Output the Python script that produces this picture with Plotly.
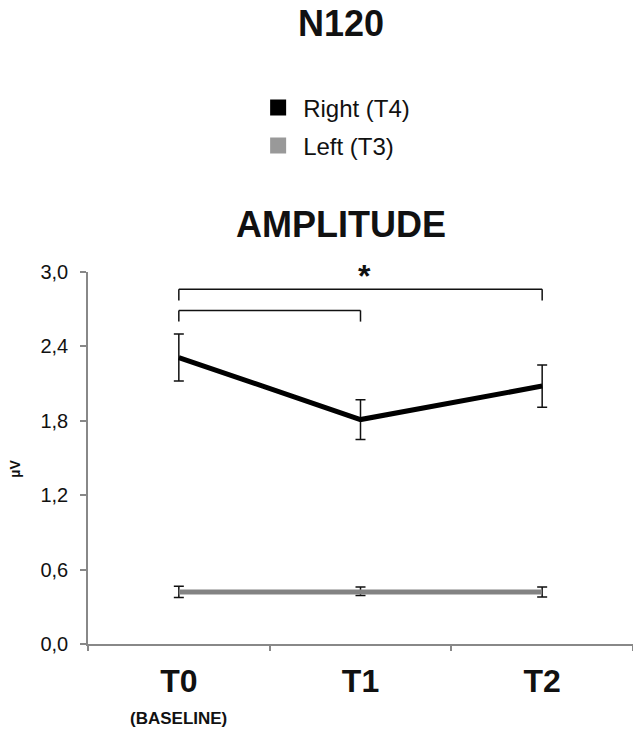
import plotly.graph_objects as go

# ---- data ----
categories = ["T0", "T1", "T2"]
tick_labels = ["<b>T0</b>", "<b>T1</b>", "<b>T2</b>"]
right_vals = [2.31, 1.81, 2.08]
right_err = [0.19, 0.16, 0.17]
left_vals = [0.42, 0.425, 0.42]
left_err = [0.045, 0.034, 0.04]
y_ticks = [0.0, 0.6, 1.2, 1.8, 2.4, 3.0]
# significance brackets: (from, to, height)
sig_pairs = [("T0", "T2", 2.86), ("T0", "T1", 2.69)]
sig_label = "*"
sig_label_pos = ("T1", 3.0)

FONT = "Arial, Liberation Sans, sans-serif"
BLACK = "#000000"
GRAY = "#838383"

fig = go.Figure()

fig.add_trace(go.Scatter(
    x=categories, y=left_vals, mode="lines",
    line=dict(color=GRAY, width=5),
    error_y=dict(type="data", array=left_err, color="#111", thickness=1.5, width=5),
    showlegend=False,
))
fig.add_trace(go.Scatter(
    x=categories, y=right_vals, mode="lines",
    line=dict(color=BLACK, width=5),
    error_y=dict(type="data", array=right_err, color="#111", thickness=1.5, width=5),
    showlegend=False,
))

# legend entries as squares
fig.add_trace(go.Scatter(x=[None], y=[None], mode="markers", name="Right (T4)",
                         marker=dict(symbol="square", size=18, color="#000000"),
                         legend="legend"))
fig.add_trace(go.Scatter(x=[None], y=[None], mode="markers", name="Left (T3)",
                         marker=dict(symbol="square", size=18, color="#999999"),
                         legend="legend2"))

# brackets
drop = 0.09
for a, b, h in sig_pairs:
    for (x0, y0, x1, y1) in [(a, h, b, h), (a, h - drop, a, h), (b, h - drop, b, h)]:
        fig.add_shape(type="line", xref="x", yref="y", x0=x0, x1=x1, y0=y0, y1=y1,
                      line=dict(color="#111", width=1.5))

fig.add_annotation(x=sig_label_pos[0], y=sig_label_pos[1], xref="x", yref="y",
                   text="<b>%s</b>" % sig_label, showarrow=False, xshift=4,
                   yanchor="middle", yshift=-4,
                   font=dict(family=FONT, size=32, color="#111"))

# titles
fig.add_annotation(x=0.465, y=1.667, xref="paper", yref="paper", text="<b>N120</b>",
                   showarrow=False, font=dict(family=FONT, size=36, color="#111"),
                   yanchor="middle")
fig.add_annotation(x=0.465, y=1.129, xref="paper", yref="paper", text="<b>AMPLITUDE</b>",
                   showarrow=False, font=dict(family=FONT, size=36, color="#111"),
                   yanchor="middle")
# baseline sublabel
fig.add_annotation(x="T0", y=0, xref="x", yref="paper", text="<b>(BASELINE)</b>",
                   showarrow=False, yanchor="middle", yshift=-74,
                   font=dict(family=FONT, size=17, color="#111"))
# y axis title
fig.add_annotation(x=-0.133, y=0.47, xref="paper", yref="paper", text="<b>µV</b>",
                   showarrow=False, textangle=-90, xanchor="center", yanchor="middle",
                   font=dict(family=FONT, size=14, color="#111"))

fig.update_layout(
    template="none",
    width=633, height=729,
    margin=dict(l=88, r=0, t=272, b=85, autoexpand=False),
    paper_bgcolor="white", plot_bgcolor="white",
    separators=",.",
    font=dict(family=FONT, color="#111"),
    legend=dict(x=0.303, y=1.441, xanchor="left", yanchor="middle",
                font=dict(family=FONT, size=24, color="#111"), itemwidth=40,
                bgcolor="rgba(0,0,0,0)", borderwidth=0),
    legend2=dict(x=0.303, y=1.339, xanchor="left", yanchor="middle",
                 font=dict(family=FONT, size=24, color="#111"), itemwidth=40,
                 bgcolor="rgba(0,0,0,0)", borderwidth=0),
    xaxis=dict(
        type="category", categoryorder="array", categoryarray=categories,
        range=[-0.5, 2.5], automargin=False,
        tickmode="array", tickvals=categories, ticktext=tick_labels,
        tickson="boundaries", ticks="outside", ticklen=5, tickcolor="#888",
        tickwidth=1.5, ticklabelstandoff=8,
        showline=True, linecolor="#888", linewidth=1.5,
        showgrid=False, zeroline=False,
        tickfont=dict(family=FONT, size=32, color="#111"),
    ),
    yaxis=dict(
        range=[0, 3], tickmode="array", tickvals=y_ticks, tickformat=".1f",
        automargin=False,
        ticks="outside", ticklen=6, tickcolor="#888", tickwidth=1.5,
        ticklabelstandoff=8,
        showline=True, linecolor="#888", linewidth=1.5,
        showgrid=False, zeroline=False,
        tickfont=dict(family=FONT, size=20, color="#111"),
    ),
)

fig.write_html("out.html", config={"displayModeBar": False},
               post_script="document.body.style.margin='0';")
